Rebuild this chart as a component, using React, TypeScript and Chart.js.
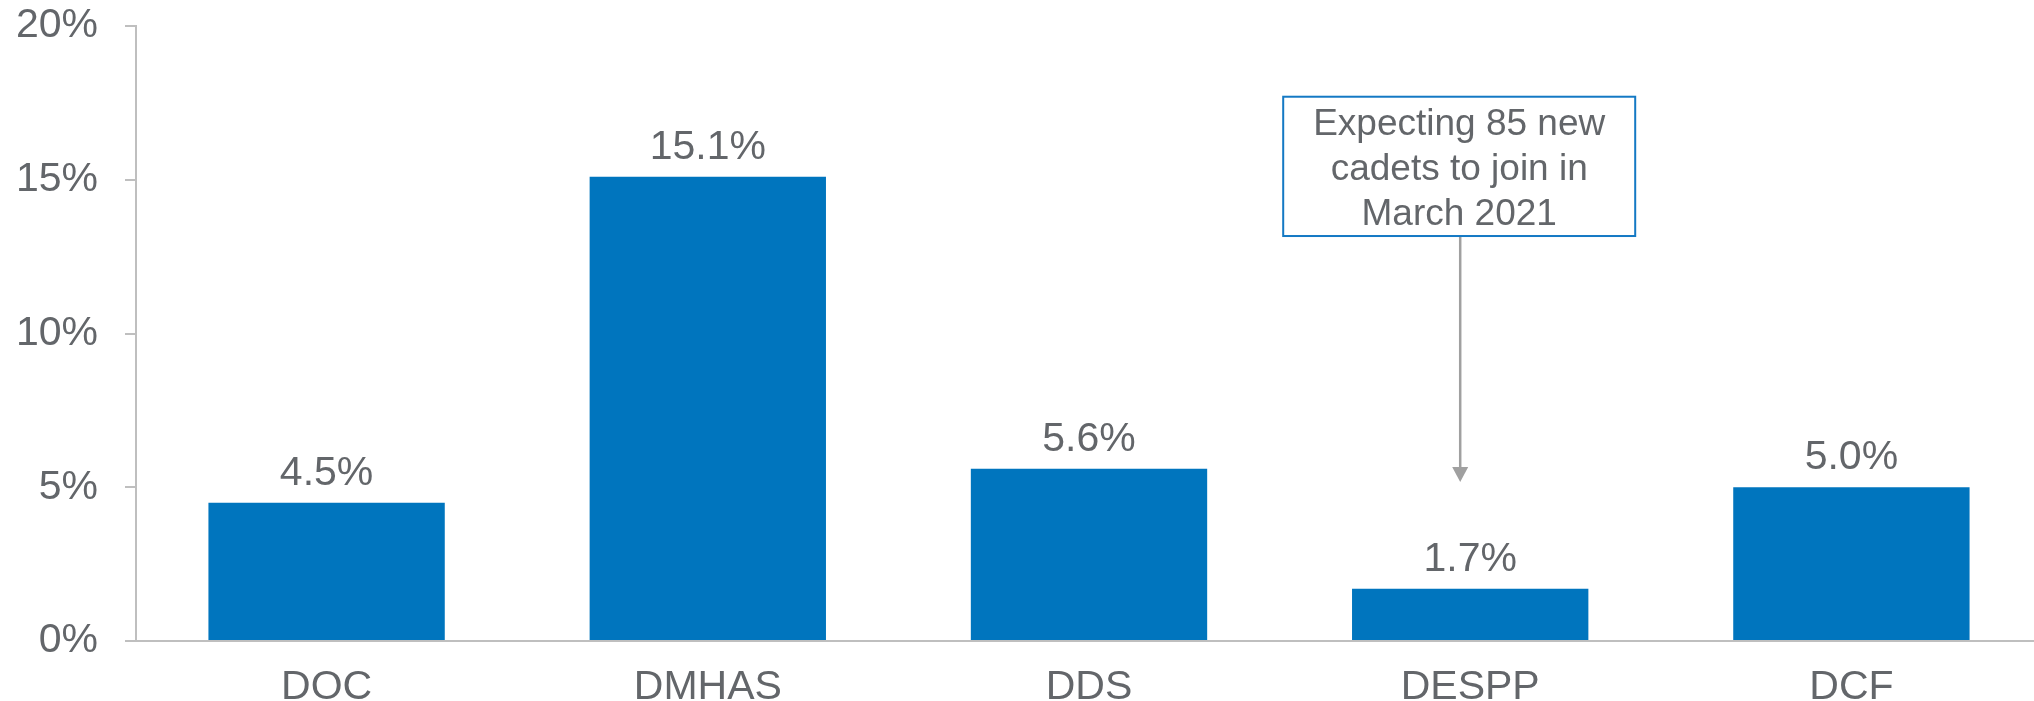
import React, { useEffect, useRef } from "react";
import { Chart, registerables } from "chart.js";

Chart.register(...registerables);

const categories = ["DOC", "DMHAS", "DDS", "DESPP", "DCF"];
const values = [4.5, 15.1, 5.6, 1.7, 5.0];
const valueLabels = ["4.5%", "15.1%", "5.6%", "1.7%", "5.0%"];
const yTicks = [0, 5, 10, 15, 20];
const noteLines = ["Expecting 85 new", "cadets to join in", "March 2021"];
const noteCategoryIndex = 3;
const noteTopValue = 17.7;
const noteBottomValue = 13.17;
const noteTipValue = 5.17;

const FONT = "'Liberation Sans', Arial, Helvetica, sans-serif";
const TEXT = "#63666A";
const BAR = "#0075BE";
const AXIS = "#BFBFBF";

const valueLabelPlugin = {
  id: "valueLabels",
  afterDatasetsDraw(chart: any) {
    const ctx = chart.ctx;
    const meta = chart.getDatasetMeta(0);
    ctx.save();
    ctx.font = `41px ${FONT}`;
    ctx.fillStyle = TEXT;
    ctx.textAlign = "center";
    ctx.textBaseline = "alphabetic";
    meta.data.forEach((bar: any, i: number) => {
      ctx.fillText(valueLabels[i], bar.x, bar.y - 18);
    });
    ctx.restore();
  },
};

const notePlugin = {
  id: "note",
  afterDraw(chart: any) {
    const ctx = chart.ctx;
    const xs = chart.scales.x;
    const ys = chart.scales.y;
    const cx = xs.getPixelForValue(noteCategoryIndex) - 11;
    const top = ys.getPixelForValue(noteTopValue);
    const bottom = ys.getPixelForValue(noteBottomValue);
    const tip = ys.getPixelForValue(noteTipValue);
    const halfW = 176;
    ctx.save();
    ctx.strokeStyle = "#A0A0A0";
    ctx.fillStyle = "#A0A0A0";
    ctx.lineWidth = 2.5;
    ctx.beginPath();
    ctx.moveTo(cx + 1, bottom);
    ctx.lineTo(cx + 1, tip - 12);
    ctx.stroke();
    ctx.beginPath();
    ctx.moveTo(cx + 1 - 8, tip - 15);
    ctx.lineTo(cx + 1 + 8, tip - 15);
    ctx.lineTo(cx + 1, tip);
    ctx.closePath();
    ctx.fill();
    ctx.fillStyle = "#FFFFFF";
    ctx.fillRect(cx - halfW, top, halfW * 2, bottom - top);
    ctx.strokeStyle = "#1479C4";
    ctx.lineWidth = 2;
    ctx.strokeRect(cx - halfW, top, halfW * 2, bottom - top);
    ctx.fillStyle = TEXT;
    ctx.font = `37px ${FONT}`;
    ctx.textAlign = "center";
    ctx.textBaseline = "alphabetic";
    noteLines.forEach((line, i) => {
      ctx.fillText(line, cx, top + 38 + i * 45);
    });
    ctx.restore();
  },
};

export default function App() {
  const canvasRef = useRef<HTMLCanvasElement | null>(null);

  useEffect(() => {
    if (!canvasRef.current) return;
    const chart = new Chart(canvasRef.current, {
      type: "bar",
      data: {
        labels: categories,
        datasets: [
          {
            data: values,
            backgroundColor: BAR,
            borderWidth: 0,
            barPercentage: 0.62,
            categoryPercentage: 1,
          },
        ],
      },
      options: {
        responsive: false,
        animation: false,
        devicePixelRatio: 1,
        layout: { padding: { top: 26, left: 0, right: 0, bottom: 0 } },
        plugins: {
          legend: { display: false },
          tooltip: { enabled: false },
        },
        scales: {
          x: {
            grid: { display: false, drawTicks: false },
            border: { display: true, color: AXIS, width: 2 },
            ticks: {
              color: TEXT,
              font: { size: 41, family: FONT },
              padding: 22,
              maxRotation: 0,
            },
            afterFit: (s: any) => {
              s.height = 60;
              s.paddingLeft = 0;
              s.paddingRight = 0;
            },
          },
          y: {
            min: 0,
            max: 20,
            afterBuildTicks: (s: any) => {
              s.ticks = yTicks.map((v) => ({ value: v }));
            },
            grid: {
              drawOnChartArea: false,
              drawTicks: true,
              tickLength: 11,
              color: AXIS,
              lineWidth: 2,
            },
            border: { display: true, color: AXIS, width: 2 },
            ticks: {
              color: TEXT,
              font: { size: 41, family: FONT },
              padding: 27,
              callback: (v: any) => `${v}%`,
            },
            afterFit: (s: any) => {
              s.width = 136;
              s.paddingTop = 0;
              s.paddingBottom = 0;
            },
          },
        },
      },
      plugins: [valueLabelPlugin, notePlugin],
    });
    return () => chart.destroy();
  }, []);

  return (
    <div
      style={{
        position: "absolute",
        left: 0,
        top: 0,
        width: 2034,
        height: 701,
        overflow: "hidden",
        background: "#fff",
      }}
    >
      <canvas ref={canvasRef} width={2042} height={701} style={{ display: "block" }} />
    </div>
  );
}
